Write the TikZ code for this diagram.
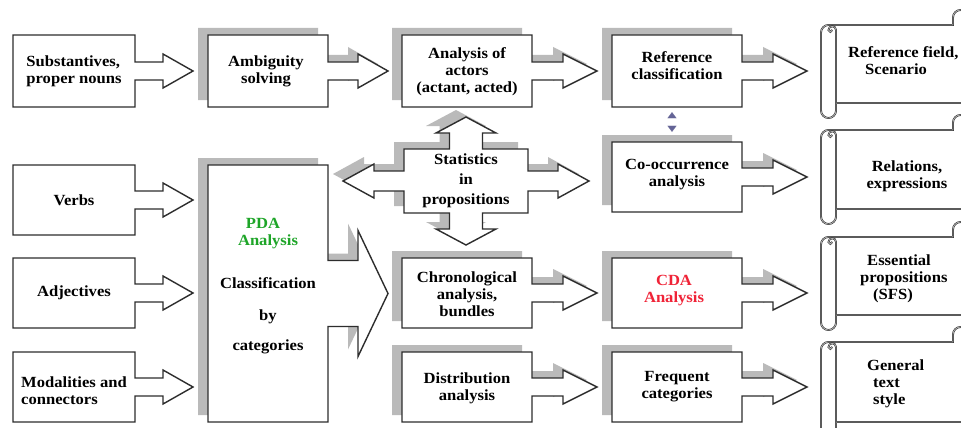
\documentclass[tikz,border=0pt]{standalone}
\usepackage{fontspec}
\setmainfont{Liberation Serif}[FakeStretch=1.07]
\usetikzlibrary{arrows.meta,calc,backgrounds}
\definecolor{shadowgray}{RGB}{186,186,186}
\definecolor{pdagreen}{RGB}{30,165,40}
\definecolor{cdared}{RGB}{240,35,55}
\definecolor{arrblue}{RGB}{100,100,150}
\definecolor{linec}{RGB}{45,45,45}
\tikzset{
  box/.style={rectangle, inner sep=0pt, align=center, font=\fontsize{15.5}{17}\selectfont\bfseries},
  boxl/.style={box, align=left},
  outline/.style={draw=linec, line width=1.4pt, fill=white, line join=miter},
  shadowfill/.style={fill=shadowgray},
  scrollline/.style={draw=linec, line width=0.55pt, double=black!30, double distance=0.75pt, fill=white},
  scrolldetail/.style={draw=linec, line width=0.55pt, double=black!30, double distance=0.75pt},
  stxt/.style={inner sep=0pt, font=\fontsize{15.5}{17}\selectfont\bfseries},
}
% callout outline: #1 half width, #2 half height, #3 shaft half, #4 shaft length, #5 head half, #6 head length
\newcommand\callpath[6]{(-#1,-#2) -- (#1,-#2) -- (#1,-#3) -- ({#1+#4},-#3) -- ({#1+#4},-#5) -- ({#1+#4+#6},0) -- ({#1+#4},#5) -- ({#1+#4},#3) -- (#1,#3) -- (#1,#2) -- (-#1,#2) -- cycle}
\newcommand\callout[9]{%
  \begin{scope}[shift={(#1.center)}, shift={#3}]
    \ifnum#2=1 \fill[shadowfill, shift={(-10,-7)}] \callpath{#4}{#5}{#6}{#7}{#8}{#9};\fi
    \draw[outline] \callpath{#4}{#5}{#6}{#7}{#8}{#9};
  \end{scope}}
\newcommand\statspath{(-62,-32) -- (-16.5,-32) -- (-16.5,-48) -- (-30,-48) -- (0,-64) -- (30,-48) -- (16.5,-48) -- (16.5,-32) -- (62,-32) -- (62,-10) -- (92,-10) -- (92,-17) -- (123,0) -- (92,17) -- (92,10) -- (62,10) -- (62,32) -- (16.5,32) -- (16.5,48) -- (30,48) -- (0,64) -- (-30,48) -- (-16.5,48) -- (-16.5,32) -- (-62,32) -- (-62,10) -- (-92,10) -- (-92,17) -- (-123,0) -- (-92,-17) -- (-92,-10) -- (-62,-10) -- cycle}
% scroll: #1 body top, #2 body bottom
\newcommand\scrollshape[2]{%
  \path[scrollline] (821,{#1+7.5}) arc[start angle=180,end angle=270,radius=7.5] -- (953,#1) -- (953,{#1-7.5}) arc[start angle=180,end angle=360,radius=7.5] -- (968,#2) -- (836,#2) -- (836,{#2+7.5}) arc[start angle=0,end angle=180,radius=7.5] -- cycle;
  \path[scrolldetail] (836,#2) -- (836,{#1+5}) arc[start angle=0,end angle=-180,radius=3.75] arc[start angle=180,end angle=0,radius=1.875];
}
\begin{document}
\begin{tikzpicture}[x=1pt,y=-1pt]
\path[use as bounding box] (0,0) rectangle (961,428);

% ---------- text nodes ----------
\node[boxl, minimum width=122pt, minimum height=72pt] (subst) at (74,71) {Substantives,\\proper nouns};
\node[box, minimum width=122pt, minimum height=70pt] (verbs) at (74,200) {Verbs};
\node[box, minimum width=122pt, minimum height=70pt] (adj) at (74,293) {Adjectives};
\node[boxl, minimum width=122pt, minimum height=70pt] (modal) at (74,391) {Modalities and\\connectors};

\node[box, minimum width=120pt, minimum height=72pt] (amb) at (266,71) {Ambiguity\\solving};
\node[box, minimum width=120pt, minimum height=257pt] (pda) at (268,286.5)
  {\hspace*{-10pt}\textcolor{pdagreen}{PDA}\\\textcolor{pdagreen}{Analysis}\\[26pt]Classification\\[15pt]by\\[13pt]categories};

\node[stxt, align=center] (stats) at (466,181) {Statistics\\[3pt]in\\[3pt]propositions};

\node[box, minimum width=130pt, minimum height=72pt] (actors) at (467,72) {Analysis of\\actors\\(actant, acted)};
\node[box, minimum width=130pt, minimum height=70pt] (chrono) at (467,294) {Chronological\\analysis,\\bundles};
\node[box, minimum width=130pt, minimum height=70pt] (dist) at (467,388) {Distribution\\analysis};

\node[box, minimum width=130pt, minimum height=72pt] (ref) at (677,66) {Reference\\classification};
\node[box, minimum width=130pt, minimum height=70pt] (cooc) at (677,175) {Co-occurrence\\analysis};
\node[box, minimum width=130pt, minimum height=70pt] (cda) at (674,291) {\textcolor{cdared}{CDA}\\\textcolor{cdared}{Analysis}};
\node[box, minimum width=130pt, minimum height=70pt] (freq) at (677,387) {Frequent\\categories};

\node[stxt, align=left, anchor=west] (sc1) at (848,61) {Reference field,\\\hspace*{17pt}Scenario};
\node[stxt, align=center] (sc2) at (907,176) {Relations,\\expressions};
\node[stxt, align=left, anchor=west] (sc3) at (860,279) {\hspace*{7pt}Essential\\propositions\\\hspace*{13pt}(SFS)};
\node[stxt, align=left, anchor=west] (sc4) at (867,384) {General\\\hspace*{6pt}text\\\hspace*{6pt}style};

% small double arrowhead between reference and co-occurrence
\draw[white, line width=0.1pt,
  {Triangle[length=6pt,width=9pt,color=arrblue,fill=arrblue]}-{Triangle[length=6pt,width=9pt,color=arrblue,fill=arrblue]}]
  ($(ref.south)+(-5,10)$) -- ($(cooc.north)+(-5,-8)$);

% ---------- shapes behind the text ----------
\begin{pgfonlayer}{background}
\begin{scope}
\clip (0,0) rectangle (961,428);
\fill[white] (0,0) rectangle (961,428);
\callout{subst}{0}{(0,0)}{61}{36}{9}{28}{17}{30}
\callout{verbs}{0}{(0,0)}{61}{35}{9}{28}{17}{30}
\callout{adj}{0}{(0,0)}{61}{35}{9}{28}{17}{30}
\callout{modal}{0}{(0,-4)}{61}{35}{9}{28}{17}{30}
\callout{amb}{1}{(2,0)}{60}{36}{9}{30}{17}{30}
\callout{pda}{1}{(0,7)}{60}{128.5}{33}{30}{63}{30}
\begin{scope}[shift={(stats.center)}]
  \fill[shadowfill, shift={(-10,-7)}] \statspath;
  \draw[outline] \statspath;
\end{scope}
\callout{actors}{1}{(0,-1)}{65}{36}{9}{31}{17}{34}
\callout{chrono}{1}{(0,-1)}{65}{35}{9}{31}{17}{34}
\callout{dist}{1}{(0,-1)}{65}{35}{9}{31}{17}{34}
\callout{ref}{1}{(0,5)}{65}{36}{9}{31}{17}{34}
\callout{cooc}{1}{(0,2)}{65}{35}{9}{31}{17}{34}
\callout{cda}{1}{(3,2)}{65}{35}{9}{31}{17}{34}
\callout{freq}{1}{(0,0)}{65}{35}{9}{31}{17}{34}
\scrollshape{25}{103}
\scrollshape{130}{209}
\scrollshape{237}{315}
\scrollshape{342}{422}
\end{scope}
\end{pgfonlayer}
\end{tikzpicture}
\end{document}
